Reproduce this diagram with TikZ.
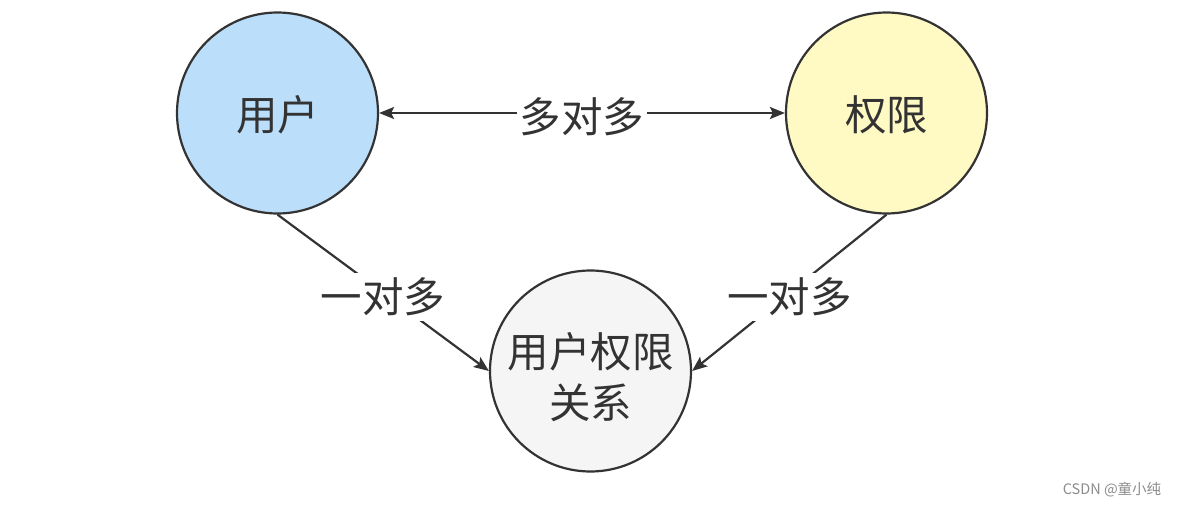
\documentclass[tikz,border=0pt]{standalone}
\usepackage{fontspec}
\newfontfamily\cjk{Noto Sans CJK SC}
\usetikzlibrary{arrows.meta}
\definecolor{ink}{HTML}{333333}
\definecolor{userfill}{HTML}{BBDEFB}
\definecolor{permfill}{HTML}{FFF9C4}
\definecolor{relfill}{HTML}{F5F5F5}
\tikzset{
  ent/.style={circle, draw=ink, line width=2.2pt, minimum size=201pt, inner sep=0pt,
    text=ink, align=center, font=\cjk\fontsize{41.5pt}{51pt}\selectfont},
  enttext/.style={text=ink, align=center, inner sep=0pt, font=\cjk\fontsize{41.5pt}{51pt}\selectfont},
  tip/.style={Stealth[length=15pt,width=12pt,inset=3pt]},
  conn/.style={draw=ink, line width=2.2pt, -{Stealth[length=15pt,width=12pt,inset=3pt]}},
  lbl/.style={fill=white, text=ink, inner sep=5pt, font=\cjk\fontsize{41.5pt}{48pt}\selectfont}
}
\begin{document}
\begin{tikzpicture}[x=1pt,y=-1pt]
\useasboundingbox[fill=white] (0,0) rectangle (1179,506);
\node[ent, fill=userfill] (u) at (277.5,113) {};
\node[enttext] (ut) at ([yshift=-2pt]u.center) {用户};
\node[ent, fill=permfill] (p) at (886.5,113) {};
\node[enttext] (pt) at ([yshift=-2pt]p.center) {权限};
\node[ent, fill=relfill] (r) at (590.5,371) {};
\node[enttext] (rt) at ([yshift=-6pt]r.center) {用户权限\\关系};
\draw[draw=ink, line width=2.2pt, {Stealth[length=15pt,width=12pt,inset=3pt]}-{Stealth[length=15pt,width=12pt,inset=3pt]}] (u.east) -- node[lbl, inner sep=3pt, yshift=-4pt] (l1) {多对多} (p.west);
\draw[conn] (u.south) -- node[lbl, pos=0.5, yshift=-4pt] (l2) {一对多} (r.west);
\draw[conn] (p.south) -- node[lbl, pos=0.5, yshift=-4pt] (l3) {一对多} (r.east);
\node[text=black!45, font=\cjk\fontsize{14.5pt}{16pt}\selectfont] (wm) at (1112,490) {CSDN @童小纯};
\end{tikzpicture}
\end{document}
